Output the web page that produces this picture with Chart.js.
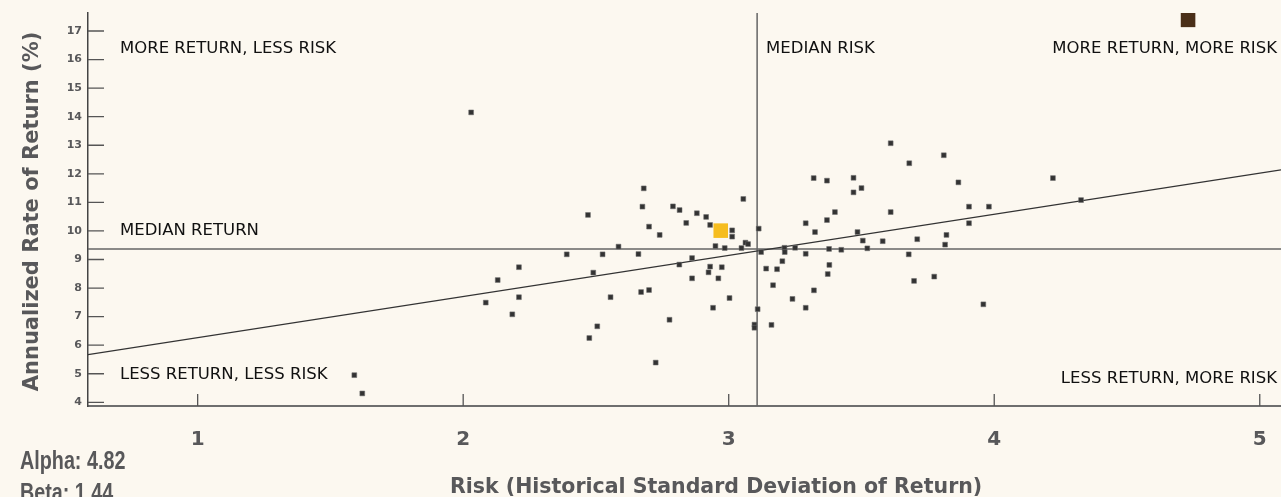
<!DOCTYPE html>
<html>
<head>
<meta charset="utf-8">
<script src="https://cdn.jsdelivr.net/npm/chart.js@4.4.1/dist/chart.umd.min.js"></script>
<style>
  html, body { margin: 0; padding: 0; background: #fcf8f0; }
  canvas { display: block; }
</style>
</head>
<body>
<canvas id="riskChart" width="1281" height="497"></canvas>
<script>
// fund universe: risk (std dev) and annualized return
const riskValues = [
  2.03, 2.68, 2.675, 2.47, 2.70, 2.74, 2.585, 2.39, 2.525, 2.66,
  2.21, 2.13, 2.49, 2.085, 2.21, 2.185, 2.555, 2.67, 2.70, 2.505,
  2.475, 2.725, 1.59, 1.62, 3.61, 3.68, 3.81, 3.865, 3.32, 3.37,
  3.47, 3.50, 3.47, 3.40, 3.61, 3.905, 3.98, 3.37, 3.29, 3.325,
  3.485, 3.905, 3.505, 3.58, 3.71, 3.82, 3.815, 2.79, 2.815, 2.88,
  2.915, 2.84, 2.93, 3.055, 3.013, 3.013, 3.113, 2.95, 2.985, 3.048,
  3.063, 3.073, 3.21, 3.25, 3.378, 3.424, 3.522, 3.122, 3.211, 3.29,
  3.678, 2.862, 2.814, 2.93, 2.974, 2.924, 2.862, 2.961, 3.202, 3.141,
  3.182, 3.379, 3.373, 3.167, 3.321, 3.24, 3.29, 3.003, 2.941, 3.109,
  2.777, 3.097, 3.097, 3.161, 3.698, 3.774, 3.959, 4.221, 4.327
];
const returnValues = [
  14.15, 11.49, 10.85, 10.56, 10.15, 9.86, 9.45, 9.18, 9.18, 9.19,
  8.73, 8.28, 8.54, 7.49, 7.68, 7.08, 7.68, 7.86, 7.93, 6.66,
  6.25, 5.39, 4.95, 4.31, 13.07, 12.37, 12.65, 11.70, 11.85, 11.76,
  11.86, 11.50, 11.35, 10.66, 10.66, 10.85, 10.85, 10.38, 10.27, 9.96,
  9.96, 10.27, 9.66, 9.64, 9.71, 9.86, 9.52, 10.86, 10.73, 10.62,
  10.49, 10.28, 10.21, 11.12, 10.02, 9.80, 10.08, 9.47, 9.40, 9.40,
  9.59, 9.54, 9.41, 9.41, 9.37, 9.34, 9.39, 9.26, 9.26, 9.20,
  9.18, 9.05, 8.82, 8.75, 8.73, 8.55, 8.34, 8.34, 8.94, 8.68,
  8.66, 8.81, 8.49, 8.10, 7.92, 7.62, 7.31, 7.65, 7.31, 7.26,
  6.89, 6.72, 6.61, 6.71, 8.25, 8.40, 7.43, 11.85, 11.08
];
const fundRisk = [2.97];
const fundReturn = [10.01];
const benchRisk = [4.73];
const benchReturn = [17.39];

const xTicks = [1, 2, 3, 4, 5];
const yTicks = [4, 5, 6, 7, 8, 9, 10, 11, 12, 13, 14, 15, 16, 17];
const xRange = [0.587, 5.08];
const yRange = [3.87, 17.63];

const alpha = 4.82;
const beta = 1.44;
const medianRisk = 3.107;
const medianReturn = 9.37;

const toPoints = (xs, ys) => xs.map((v, i) => ({ x: v, y: ys[i] }));

const textGray = "#58585a";

const overlay = {
  id: "overlay",
  beforeDatasetsDraw(chart) {
    const { ctx, chartArea: a, scales: { x, y } } = chart;
    ctx.save();

    // median risk / median return lines
    const mx = x.getPixelForValue(medianRisk);
    const my = y.getPixelForValue(medianReturn);
    ctx.strokeStyle = "#666";
    ctx.lineWidth = 1.5;
    ctx.beginPath();
    ctx.moveTo(mx, a.top);
    ctx.lineTo(mx, a.bottom);
    ctx.moveTo(a.left, my);
    ctx.lineTo(a.right, my);
    ctx.stroke();

    // tick marks point inward
    ctx.strokeStyle = "#555";
    ctx.lineWidth = 1.3;
    ctx.beginPath();
    yTicks.forEach(v => {
      const py = y.getPixelForValue(v);
      ctx.moveTo(a.left, py);
      ctx.lineTo(a.left + 16, py);
    });
    xTicks.forEach(v => {
      const px = x.getPixelForValue(v);
      ctx.moveTo(px, a.bottom);
      ctx.lineTo(px, a.bottom - 12);
    });
    ctx.stroke();

    // quadrant captions
    ctx.fillStyle = "#111";
    ctx.font = "16.5px 'DejaVu Sans'";
    ctx.textBaseline = "alphabetic";
    ctx.textAlign = "left";
    ctx.fillText("MORE RETURN, LESS RISK", 120, 53);
    ctx.fillText("MEDIAN RISK", mx + 9, 53);
    ctx.fillText("MEDIAN RETURN", 120, 235);
    ctx.fillText("LESS RETURN, LESS RISK", 120, 379);
    ctx.textAlign = "right";
    ctx.fillText("MORE RETURN, MORE RISK", 1277, 53);
    ctx.fillText("LESS RETURN, MORE RISK", 1277, 383);
    ctx.restore();
  },
  afterDraw(chart) {
    const { ctx } = chart;
    ctx.save();
    ctx.fillStyle = textGray;

    // axis titles
    ctx.font = "bold 20.5px 'DejaVu Sans'";
    ctx.textAlign = "left";
    ctx.textBaseline = "alphabetic";
    ctx.fillText("Risk (Historical Standard Deviation of Return)", 450, 493);

    ctx.save();
    ctx.translate(37.5, 211.5);
    ctx.rotate(-Math.PI / 2);
    ctx.textAlign = "center";
    ctx.font = "bold 21px 'DejaVu Sans'";
    ctx.fillText("Annualized Rate of Return (%)", 0, 0);
    ctx.restore();

    // regression stats, squeezed to a condensed look
    ctx.save();
    ctx.translate(20, 0);
    ctx.scale(0.79, 1);
    ctx.font = "bold 25px 'Liberation Sans'";
    ctx.textAlign = "left";
    ctx.fillText("Alpha: " + alpha.toFixed(2), 0, 469);
    ctx.fillText("Beta: " + beta.toFixed(2), 0, 501);
    ctx.restore();
    ctx.restore();
  }
};

new Chart(document.getElementById("riskChart"), {
  type: "scatter",
  data: {
    datasets: [
      {
        data: [
          { x: xRange[0], y: alpha + beta * xRange[0] },
          { x: xRange[1], y: alpha + beta * xRange[1] }
        ],
        showLine: true,
        borderColor: "#333",
        borderWidth: 1.2,
        pointRadius: 0,
        order: 3
      },
      {
        data: toPoints(riskValues, returnValues),
        pointStyle: "rect",
        pointRadius: 3.4,
        backgroundColor: "#333",
        borderColor: "rgba(110,110,110,0.55)",
        borderWidth: 1,
        order: 2
      },
      {
        data: toPoints(fundRisk, fundReturn),
        pointStyle: "rect",
        pointRadius: 10.3,
        backgroundColor: "#f6bd1f",
        borderWidth: 0,
        order: 1
      },
      {
        data: toPoints(benchRisk, benchReturn),
        pointStyle: "rect",
        pointRadius: 10.3,
        backgroundColor: "#4a2f18",
        borderWidth: 0,
        order: 1
      }
    ]
  },
  options: {
    responsive: false,
    animation: false,
    events: [],
    layout: { autoPadding: false, padding: { top: 13, right: 0, left: 0, bottom: 0 } },
    plugins: { legend: { display: false }, tooltip: { enabled: false } },
    scales: {
      x: {
        type: "linear",
        min: xRange[0],
        max: xRange[1],
        afterBuildTicks: s => { s.ticks = xTicks.map(v => ({ value: v })); },
        afterFit: s => { s.height = 91; s.paddingLeft = 0; s.paddingRight = 0; },
        grid: { drawOnChartArea: false, drawTicks: false },
        border: { display: true, color: "#6e6e6e", width: 2 },
        ticks: {
          padding: 22,
          color: textGray,
          font: { family: "DejaVu Sans", weight: "bold", size: 20 }
        }
      },
      y: {
        type: "linear",
        min: yRange[0],
        max: yRange[1],
        afterBuildTicks: s => { s.ticks = yTicks.map(v => ({ value: v })); },
        afterFit: s => { s.width = 88; s.paddingTop = 0; s.paddingBottom = 0; },
        grid: { drawOnChartArea: false, drawTicks: false },
        border: { display: true, color: "#444", width: 1.5 },
        ticks: {
          padding: 6,
          color: textGray,
          font: { family: "DejaVu Sans", weight: "bold", size: 11 }
        }
      }
    }
  },
  plugins: [overlay]
});
</script>
</body>
</html>
